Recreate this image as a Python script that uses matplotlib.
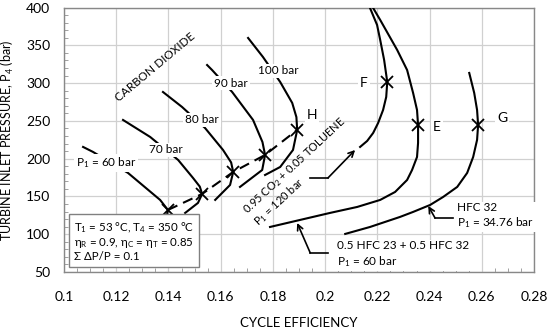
import matplotlib
matplotlib.use("Agg")
import matplotlib.pyplot as plt
from matplotlib.ticker import MultipleLocator

plt.rcParams['font.family'] = ['Lato', 'DejaVu Sans']
plt.rcParams['mathtext.fontset'] = 'custom'
plt.rcParams['mathtext.rm'] = 'Lato'
plt.rcParams['mathtext.it'] = 'Lato'
plt.rcParams['mathtext.default'] = 'rm'

# CO2 curves: (cycle efficiency, turbine inlet pressure)
co2_60_eff = [0.1073, 0.1111, 0.1245, 0.1368, 0.1398, 0.1391, 0.1360]
co2_60_p = [215.5, 208.9, 181.1, 145.4, 132.1, 118.9, 99.0]
co2_70_eff = [0.1226, 0.1330, 0.1437, 0.1494, 0.1520, 0.1529, 0.1513, 0.1464]
co2_70_p = [251.2, 228.7, 198.3, 174.5, 163.0, 153.3, 141.4, 128.2]
co2_80_eff = [0.1379, 0.1452, 0.1540, 0.1609, 0.1640, 0.1648, 0.1636, 0.1579]
co2_80_p = [288.2, 268.4, 240.6, 211.5, 195.0, 182.4, 165.2, 145.4]
co2_90_eff = [0.1548, 0.1567, 0.1644, 0.1724, 0.1760, 0.1770, 0.1759, 0.1674]
co2_90_p = [323.9, 317.3, 288.2, 251.2, 222.0, 204.9, 185.0, 162.6]
co2_100_eff = [0.1705, 0.1762, 0.1828, 0.1874, 0.1890, 0.1893, 0.1877, 0.1828, 0.1770]
co2_100_p = [359.7, 334.5, 301.4, 273.7, 255.0, 238.0, 211.5, 189.0, 178.4]

# maximum-efficiency points of the CO2 curves (dashed line)
co2_max_eff = [0.1398, 0.1529, 0.1648, 0.1770, 0.1893]
co2_max_p = [132.1, 153.3, 182.4, 204.9, 238.0]

# 0.95 CO2 + 0.05 toluene, P1 = 120 bar (point F)
tol_eff = [0.2168, 0.2172, 0.2199, 0.2211, 0.2226, 0.2238, 0.2234, 0.2222, 0.2203,
           0.2184, 0.2161, 0.2134]
tol_p = [405.0, 399.3, 376.9, 357.0, 330.6, 301.5, 281.6, 264.4, 247.2, 234.0, 223.4, 215.5]
# 0.5 HFC 23 + 0.5 HFC 32, P1 = 60 bar (point E)
mix_eff = [0.2180, 0.2184, 0.2211, 0.2276, 0.2314, 0.2337, 0.2352, 0.2356, 0.2356,
           0.2352, 0.2333, 0.2314, 0.2268, 0.2211, 0.2123, 0.2019, 0.1904, 0.1789]
mix_p = [405.0, 399.3, 383.5, 343.8, 317.3, 286.9, 264.4, 244.6, 220.8, 202.2, 185.0,
         171.8, 155.9, 145.4, 136.1, 128.2, 118.9, 109.6]
# HFC 32, P1 = 34.76 bar (point G)
hfc_eff = [0.2552, 0.2571, 0.2582, 0.2586, 0.2582, 0.2567, 0.2544, 0.2506, 0.2452,
           0.2402, 0.2337, 0.2287, 0.2172, 0.2077]
hfc_p = [313.4, 287.0, 264.4, 244.6, 224.8, 202.2, 181.1, 162.6, 149.3, 138.7, 129.5,
         122.9, 109.6, 100.4]

point_names = ['F', 'E', 'G']
point_eff = [0.2238, 0.2356, 0.2586]
point_p = [301.5, 244.6, 244.6]

fig = plt.figure(figsize=(5.5, 3.32), dpi=100)
ax = fig.add_axes([0.1164, 0.1807, 0.8545, 0.7967])

lw = 1.5
for e, p in [(co2_60_eff, co2_60_p), (co2_70_eff, co2_70_p), (co2_80_eff, co2_80_p),
             (co2_90_eff, co2_90_p), (co2_100_eff, co2_100_p),
             (tol_eff, tol_p), (mix_eff, mix_p), (hfc_eff, hfc_p)]:
    ax.plot(e, p, color='black', lw=lw, zorder=3)

ax.plot(co2_max_eff, co2_max_p, color='black', lw=lw, ls=(0, (5, 3)), zorder=3)
ax.plot(co2_max_eff, co2_max_p, ls='none', marker='x', ms=8, mew=1.3,
        color='black', zorder=4)
ax.plot(point_eff, point_p, ls='none', marker='x', ms=8, mew=1.3,
        color='black', zorder=4)

ax.set_xlim(0.1, 0.28)
ax.set_ylim(50, 400)
ax.xaxis.set_major_locator(MultipleLocator(0.02))
ax.yaxis.set_major_locator(MultipleLocator(50))
ax.xaxis.set_minor_locator(MultipleLocator(0.005))
ax.yaxis.set_minor_locator(MultipleLocator(10))
ax.xaxis.set_major_formatter(lambda v, pos: '%g' % round(v, 3))
ax.grid(True, which='major', color='#d0d0d0', lw=0.9, zorder=0)
ax.tick_params(which='both', direction='in', color='#909090', labelsize=10)
ax.tick_params(which='major', length=0)
ax.tick_params(which='minor', length=3)
ax.tick_params(axis='x', pad=14)
ax.tick_params(axis='y', pad=10)
for s in ax.spines.values():
    s.set_color('#888888')
    s.set_linewidth(1.0)

ax.set_xlabel('CYCLE EFFICIENCY', fontsize=9.5)
ax.xaxis.set_label_coords(0.5, -0.17)
ax.set_ylabel('TURBINE INLET PRESSURE, P$_4$ (bar)', fontsize=9)
ax.yaxis.set_label_coords(-0.103, 0.5)

fs = 8.5
wbox = dict(boxstyle='square,pad=0.15', fc='white', ec='none')
lab = dict(fontsize=fs, ha='center', va='center', bbox=wbox, zorder=5)
ax.text(0.1161, 194.3, 'P$_1$ = 60 bar', **lab)
ax.text(0.1391, 211.5, '70 bar', **lab)
ax.text(0.1529, 251.2, '80 bar', **lab)
ax.text(0.1640, 300.1, '90 bar', **lab)
ax.text(0.1820, 316.0, '100 bar', **lab)

big = dict(fontsize=10, ha='center', va='center', bbox=wbox, zorder=5)
ax.text(0.2149, 300.1, 'F', **big)
ax.text(0.2429, 242.0, 'E', **big)
ax.text(0.2678, 253.8, 'G', **big)
ax.text(0.1950, 257.8, 'H', **big)

ax.text(0.1349, 321.3, 'CARBON DIOXIDE', fontsize=8.5, rotation=40,
        ha='center', va='center', rotation_mode='anchor', zorder=5)

ax.text(0.1701, 126.8, '0.95 CO$_2$ + 0.05 TOLUENE', fontsize=8, rotation=43,
        ha='left', va='baseline', rotation_mode='anchor', zorder=5)
ax.text(0.1743, 110.9, 'P$_1$ = 120 bar', fontsize=8, rotation=43,
        ha='left', va='baseline', rotation_mode='anchor', zorder=5)

ax.text(0.1038, 118.9,
        'T$_1$ = 53 °C, T$_4$ = 350 °C\nη$_R$ = 0.9, η$_C$ = η$_T$ = 0.85\nΣ ΔP/P = 0.1',
        fontsize=8.3, ha='left', va='top', linespacing=1.15, zorder=6,
        bbox=dict(boxstyle='square,pad=0.4', fc='white', ec='#808080', lw=1.0))

arrow = dict(arrowstyle='->', color='black', lw=1.2, shrinkA=0, shrinkB=0,
             mutation_scale=10)
# toluene mixture pointer
ax.plot([0.1942, 0.2011], [174.5, 174.5], color='black', lw=1.2, zorder=3)
ax.annotate('', xy=(0.2115, 211.5), xytext=(0.2011, 174.5), arrowprops=arrow, zorder=3)
# HFC 23 / HFC 32 mixture pointer
ax.plot([0.1943, 0.2011], [75.3, 75.3], color='black', lw=1.2, zorder=3)
ax.annotate('', xy=(0.1893, 114.9), xytext=(0.1943, 75.3), arrowprops=arrow, zorder=3)
ax.text(0.2046, 73.0, '0.5 HFC 23 + 0.5 HFC 32\nP$_1$ = 60 bar', fontsize=fs,
        ha='left', va='center', linespacing=1.35, bbox=wbox, zorder=5)
# HFC 32 pointer
ax.plot([0.2421, 0.2490], [121.5, 121.5], color='black', lw=1.2, zorder=3)
ax.annotate('', xy=(0.2395, 137.4), xytext=(0.2421, 121.5), arrowprops=arrow, zorder=3)
ax.text(0.2506, 124.2, 'HFC 32\nP$_1$ = 34.76 bar', fontsize=fs,
        ha='left', va='center', linespacing=1.2, bbox=wbox, zorder=5)

fig.savefig('out.png', dpi=100)
